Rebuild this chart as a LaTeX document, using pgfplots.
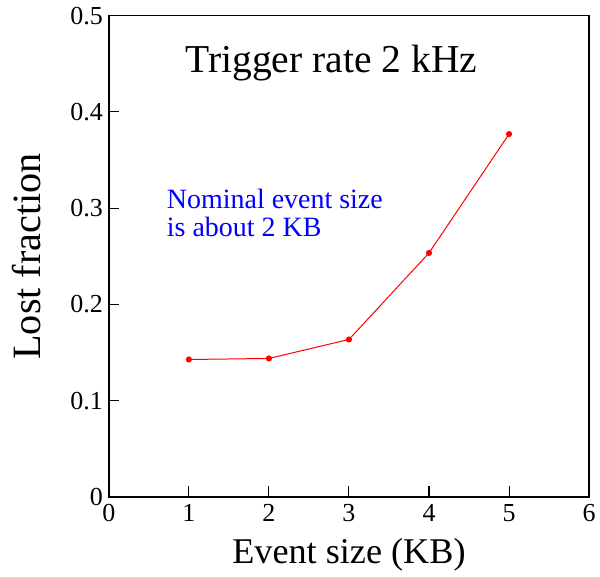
\documentclass[border=0pt]{standalone}
\usepackage{fontspec}
\setmainfont{Liberation Serif}
\usepackage{pgfplots}
\pgfplotsset{compat=1.18}

\begin{document}
\begin{tikzpicture}
  \begin{axis}[
    at={(0,0)}, anchor=south west,
    scale only axis,
    width=360.75pt, height=361.5pt,
    xmin=0, xmax=6, ymin=0, ymax=0.5,
    xtick={0,1,...,6},
    ytick={0,0.1,...,0.5},
    yticklabels={0,0.1,0.2,0.3,0.4,0.5},
    tick pos=left,
    tick align=inside,
    major tick length=8pt,
    axis line style={line width=1.1pt},
    every tick/.style={line width=0.8pt, black},
    /pgf/number format/assume math mode=true,
    tick label style={font=\fontsize{19.5}{23}\selectfont},
    xticklabel style={yshift=-2pt},
    yticklabel style={xshift=-1pt},
    xlabel={Event size (KB)},
    ylabel={Lost fraction},
    xlabel style={font=\fontsize{27.2}{31}\selectfont, yshift=-5.5pt},
    ylabel style={font=\fontsize{30.2}{34}\selectfont, yshift=15pt},
  ]
    \addplot[red, line width=0.75pt, mark=*, mark size=1.9pt] coordinates {
      (1,0.1428) (2,0.1439) (3,0.1636) (4,0.2535) (5,0.3770)
    };
    \node[anchor=base, font=\fontsize{29.7}{33}\selectfont] at (axis cs:2.78,0.4406) {Trigger rate 2 kHz};
    \node[anchor=base west, align=left, text=blue, inner sep=0pt,
          font=\fontsize{21}{20.8}\selectfont] at (axis cs:0.723,0.2708)
          {Nominal event size\\is about 2 KB};
  \end{axis}
  \useasboundingbox (-81.75pt,-59.5pt) rectangle (368.25pt,373.3pt);
\end{tikzpicture}
\end{document}
